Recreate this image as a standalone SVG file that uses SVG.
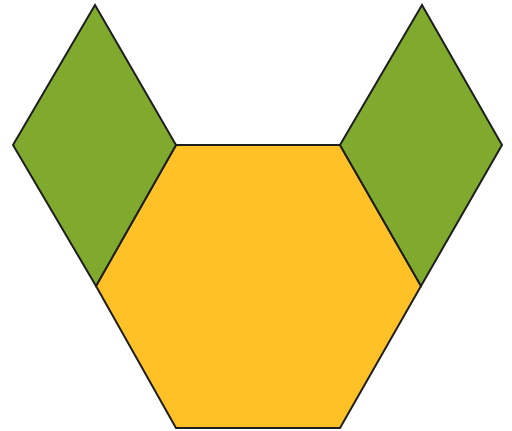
<svg xmlns="http://www.w3.org/2000/svg" width="512" height="431" viewBox="0 0 512 431">
<style>
.s{stroke:#1e1e1e;stroke-width:2;stroke-linejoin:miter}
.g{fill:#80aa2e}
.y{fill:#ffc125}
</style>
<rect width="512" height="431" fill="#fff"/>
<g id="hexagon"><polygon class="s y" points="176,145 340,145 421,286 340,428 176,428 96,286"/></g>
<g id="rhombus-left"><polygon class="s g" points="95,5 176,145 96,286 13,145"/></g>
<g id="rhombus-right"><polygon class="s g" points="422,5 502,145 421,286 340,145"/></g>
</svg>
